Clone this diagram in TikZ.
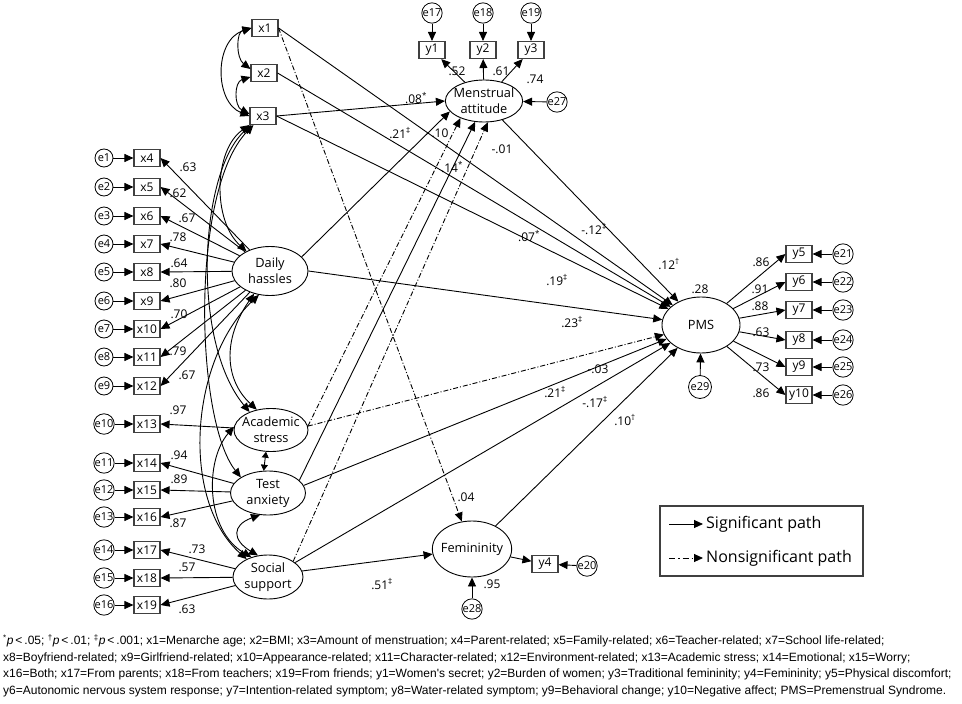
\documentclass[tikz,border=0pt]{standalone}
\usepackage{fontspec}
\setmainfont{Open Sans}
\newfontfamily\capfont{Liberation Sans}
\usetikzlibrary{arrows.meta,shapes.geometric,calc,positioning}
\newcommand\pstar{\textsuperscript{*}}
\newcommand\pdag{\textsuperscript{†}}
\newcommand\pddag{\textsuperscript{‡}}
\tikzset{
  obs/.style={draw=black!75, line width=1.1pt, rectangle, minimum width=26pt,
    minimum height=17pt, inner sep=0pt, font=\fontsize{12}{13}\selectfont},
  lat/.style={draw, ellipse, line width=0.9pt, inner sep=-3pt, align=center,
    font=\fontsize{12.8}{16}\selectfont},
  err/.style={draw, circle, line width=0.8pt, minimum size=18pt, inner sep=0pt,
    font=\fontsize{11}{11}\selectfont},
  arr/.style={-{Triangle[length=9pt,width=8pt]}, line width=0.9pt},
  sig/.style={arr},
  nsig/.style={arr, dash pattern=on 5pt off 2pt on 1pt off 2pt},
  cov/.style={{Triangle[length=9pt,width=8pt]}-{Triangle[length=9pt,width=8pt]}, line width=0.9pt},
  shortcov/.style={{Triangle[length=6pt,width=7pt]}-{Triangle[length=6pt,width=7pt]}, line width=0.9pt},
  coef/.style={font=\fontsize{12}{13}\selectfont, inner sep=0pt},
  capline/.style={anchor=west, inner sep=0pt, font=\capfont\fontsize{12}{13}\selectfont},
}
\begin{document}
\begin{tikzpicture}[x=1pt, y=-1pt]
\useasboundingbox (0,0) rectangle (962,704);

% exogenous observed
\node[obs] (x1) at (265,28) {x1};
\node[obs] (x2) at (264,73) {x2};
\node[obs] (x3) at (263,116) {x3};

% latent variables
\node[lat, minimum width=75pt, minimum height=42pt] (MA) at (484,101) {Menstrual\\attitude};
\node[lat, minimum width=76pt, minimum height=49pt] (DH) at (270,271) {Daily\\hassles};
\node[lat, minimum width=74pt, minimum height=43pt] (AS) at (271,430) {Academic\\stress};
\node[lat, minimum width=75pt, minimum height=44pt] (TA) at (268,493) {Test\\anxiety};
\node[lat, minimum width=70pt, minimum height=44pt] (SS) at (268,577) {Social\\support};
\node[lat, minimum width=77pt, minimum height=56pt] (Fem) at (472,549) {Femininity};
\node[lat, minimum width=78pt, minimum height=56pt] (PMS) at (701,325) {PMS};

% left indicators with errors
\foreach \i/\y [count=\k from 1] in {4/158,5/187,6/216,7/244,8/272,9/301,10/329,11/357,12/386,
    13/424,14/463,15/490,16/517,17/550,18/578,19/605} {
  \node[obs] (x\i) at (147,\y) {x\i};
  \node[err] (e\k) at (104,\y) {e\k};
  \draw[arr] (e\k) -- (x\i);
}
\foreach \i in {4,...,12} \draw[arr] (DH) -- (x\i.east);
\draw[arr] (AS) -- (x13.east);
\foreach \i in {14,15,16} \draw[arr] (TA) -- (x\i.east);
\foreach \i in {17,18,19} \draw[arr] (SS) -- (x\i.east);

% menstrual attitude indicators
\foreach \n/\x [count=\k from 17] in {1/432,2/483,3/531} {
  \node[obs] (y\n) at (\x,50) {y\n};
  \node[err] (e\k) at (\x,13) {e\k};
  \draw[arr] (e\k) -- (y\n);
  \draw[arr] (MA) -- (y\n);
}
\node[err, minimum size=19pt] (e27) at (557,102) {e27};
\draw[arr] (e27) -- (MA);

% PMS indicators
\foreach \n/\y [count=\k from 21] in {5/254,6/282,7/310,8/340,9/367,10/395} {
  \node[obs] (y\n) at (799,\y) {y\n};
  \node[err, minimum size=19pt] (e\k) at (843,\y) {e\k};
  \draw[arr] (e\k) -- (y\n);
  \draw[arr] (PMS) -- (y\n.west);
}
\node[err, minimum size=23pt] (e29) at (700,387) {e29};
\draw[arr] (e29) -- (PMS);

% femininity indicator
\node[obs] (y4) at (545,564) {y4};
\node[err] (e20) at (587,566) {e20};
\node[err, minimum size=19pt] (e28) at (472,609) {e28};
\draw[arr] (Fem) -- (y4);
\draw[arr] (e20) -- (y4);
\draw[arr] (e28) -- (Fem);

% structural paths
\draw[sig] (x1.east) -- (PMS);
\draw[nsig] (x1.east) -- (Fem);
\draw[sig] (x2.east) -- (PMS);
\draw[sig] (x3.east) -- (MA.west);
\draw[sig] (x3.east) -- (PMS);
\draw[sig] (DH.24) -- (MA.197);
\draw[sig] (DH.east) -- (PMS);
\draw[nsig] (AS.6) -- (MA.216);
\draw[nsig] (AS.6) -- (PMS);
\draw[sig] (TA.22) -- (MA.247);
\draw[sig] (TA.12) -- (PMS);
\draw[nsig] (SS.32) -- (MA.280);
\draw[sig] (SS.28) -- (PMS);
\draw[sig] (SS.10) -- (Fem);
\draw[sig] (MA) -- (PMS);
\draw[sig] (Fem) -- (PMS);

% covariances
\draw[cov] (x1.west) .. controls (236,32) and (236,58) .. ([yshift=4pt]x2.west);
\draw[cov] ([yshift=-4pt]x2.west) .. controls (234,82) and (234,106) .. ([yshift=2pt]x3.west);
\draw[cov] (x1.west) .. controls (214,40) and (214,102) .. (x3.west);
\draw[cov] (x3.south west) .. controls (214,150) and (212,220) .. (DH.140);
\draw[cov] ([xshift=2pt]x3.south west) .. controls (200,170) and (190,340) .. (AS.140);
\draw[cov] ([xshift=4pt]x3.south west) .. controls (190,190) and (195,420) .. (TA.150);
\draw[cov] (DH.235) .. controls (222,340) and (225,380) .. (AS.125);
\draw[cov] (DH.245) .. controls (190,360) and (180,500) .. (SS.140);
\draw[shortcov] (AS.257) -- (TA.101);
\draw[cov] (AS.175) .. controls (205,460) and (205,530) .. (SS.130);
\draw[cov] (TA.250) .. controls (232,525) and (232,540) .. (SS.115);

% coefficients
\foreach \n/\x/\y/\t in {
  c4/188/167/{.63}, c5/178/193/{.62}, c6/187/218/{.67}, c7/178/237/{.78},
  c8/179/263/{.64}, c9/178/283/{.80}, c10/179/314/{.70}, c11/178/351/{.79},
  c12/187/375/{.67}, c13/178/410/{.97}, c14/179/455/{.94}, c15/179/479/{.89},
  c16/178/523/{.87}, c17/197/549/{.73}, c18/187/567/{.57}, c19/187/609/{.63},
  cy1/457/71/{.52}, cy2/501/71/{.61}, cy3/535/79/{.74},
  cx3/416/98/{.08\pstar}, cdh/400/133/{.21\pddag}, cas/440/133/{.10},
  cta/452/167/{.14\pstar}, css/502/149/{-.01}, cx1/594/229/{-.12\pddag},
  cx2/529/236/{.07\pstar}, cma/669/264/{.12\pdag}, cx3p/557/280/{.19\pddag},
  cdhp/572/322/{.23\pddag}, r2/700/289/{.28},
  cy5/761/262/{.86}, cy6/760/289/{.91}, cy7/760/306/{.88}, cy8/761/332/{.63},
  cy9/761/367/{.73}, cy10/761/393/{.86},
  casp/598/369/{-.03}, ctap/555/392/{.21\pddag}, cssp/595/402/{-.17\pddag},
  cfem/625/420/{.10\pdag}, cx1f/466/497/{.04}, cssf/382/584/{.51\pddag},
  cy4/492/584/{.95}} {
  \node[coef] (\n) at (\x,\y) {\t};
}

% legend
\node[draw=black!75, line width=1.1pt, minimum width=203pt, minimum height=70pt,
  inner sep=0pt] (leg) at (761.5,541) {};
\coordinate (ls1) at (669,524);
\coordinate (ls2) at (703,524);
\coordinate (ln1) at (669,558);
\coordinate (ln2) at (703,558);
\draw[sig] (ls1) -- (ls2);
\draw[nsig, dash pattern=on 6pt off 3pt on 1.5pt off 3pt] (ln1) -- (ln2);
\node[anchor=west, inner sep=0pt, font=\fontsize{16}{18}\selectfont] (lsig) at (706,524) {Significant path};
\node[anchor=west, inner sep=0pt, font=\fontsize{16}{18}\selectfont] (lnsig) at (706,558) {Nonsignificant path};

% caption
\node[capline] (cap1) at (3,641) {\pstar\textit{p}\,<\,.05; \pdag\textit{p}\,<\,.01; \pddag\textit{p}\,<\,.001; x1=Menarche age; x2=BMI; x3=Amount of menstruation; x4=Parent-related; x5=Family-related; x6=Teacher-related; x7=School life-related;};
\node[capline] (cap2) at (3,658) {x8=Boyfriend-related; x9=Girlfriend-related; x10=Appearance-related; x11=Character-related; x12=Environment-related; x13=Academic stress; x14=Emotional; x15=Worry;};
\node[capline] (cap3) at (3,674) {x16=Both; x17=From parents; x18=From teachers; x19=From friends; y1=Women's secret; y2=Burden of women; y3=Traditional femininity; y4=Femininity; y5=Physical discomfort;};
\node[capline] (cap4) at (3,691) {y6=Autonomic nervous system response; y7=Intention-related symptom; y8=Water-related symptom; y9=Behavioral change; y10=Negative affect; PMS=Premenstrual Syndrome.};
\end{tikzpicture}
\end{document}
